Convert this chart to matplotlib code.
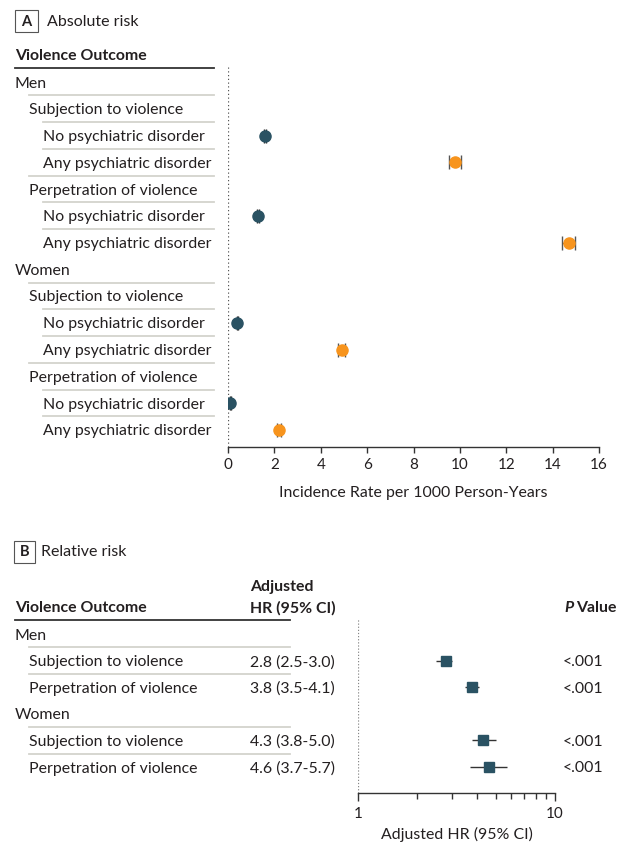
import matplotlib
matplotlib.use('Agg')
import matplotlib.pyplot as plt
import matplotlib.transforms as mtransforms
from matplotlib.patches import Rectangle
from matplotlib.lines import Line2D
from matplotlib.ticker import NullFormatter

plt.rcParams['font.family'] = ['Lato', 'DejaVu Sans']

# ---------------- data ----------------
labels_A = ["Men", "Subjection to violence", "No psychiatric disorder", "Any psychiatric disorder",
            "Perpetration of violence", "No psychiatric disorder", "Any psychiatric disorder",
            "Women", "Subjection to violence", "No psychiatric disorder", "Any psychiatric disorder",
            "Perpetration of violence", "No psychiatric disorder", "Any psychiatric disorder"]
levels_A = [0, 1, 2, 2, 1, 2, 2, 0, 1, 2, 2, 1, 2, 2]

ir_no = [1.6, 1.3, 0.4, 0.1]
ir_no_lo = [1.56, 1.26, 0.37, 0.08]
ir_no_hi = [1.64, 1.34, 0.43, 0.12]
ir_any = [9.8, 14.7, 4.9, 2.2]
ir_any_lo = [9.55, 14.4, 4.75, 2.12]
ir_any_hi = [10.05, 14.95, 5.05, 2.28]
xticks_A = [0, 2, 4, 6, 8, 10, 12, 14, 16]

labels_B = ["Men", "Subjection to violence", "Perpetration of violence",
            "Women", "Subjection to violence", "Perpetration of violence"]
levels_B = [0, 1, 1, 0, 1, 1]
hr = [2.8, 3.8, 4.3, 4.6]
hr_lo = [2.5, 3.5, 3.8, 3.7]
hr_hi = [3.0, 4.1, 5.0, 5.7]
p_values = ["<.001", "<.001", "<.001", "<.001"]

# ---------------- layout helpers ----------------
W, H = 622, 856
fig = plt.figure(figsize=(W / 100, H / 100), dpi=100)


def fx(p):
    return p / W


def fy(p):
    return 1 - p / H


TEXT = '#231f20'
DARK = '#2a5263'
ORANGE = '#f7941d'
GRID = '#d3d3cd'
FS = 11.4
TFS = 11
indent = {0: 15, 1: 29, 2: 43}

# ================= Panel A =================
ax1 = fig.add_axes([fx(228), fy(447), fx(599) - fx(228), (447 - 67) / H])
stepA = 26.75
ax1.set_xlim(0, 16)
ax1.set_ylim((447 - 82) / stepA, -(82 - 67) / stepA)

rows_no = [i for i, l in enumerate(labels_A) if l.startswith("No")]
rows_any = [i for i, l in enumerate(labels_A) if l.startswith("Any")]

ax1.errorbar(ir_no, rows_no,
             xerr=[[v - lo for v, lo in zip(ir_no, ir_no_lo)], [hi - v for v, hi in zip(ir_no, ir_no_hi)]],
             fmt='o', color=DARK, ms=8, ecolor='#222222', elinewidth=1, capsize=5, capthick=1, zorder=3)
ax1.errorbar(ir_any, rows_any,
             xerr=[[v - lo for v, lo in zip(ir_any, ir_any_lo)], [hi - v for v, hi in zip(ir_any, ir_any_hi)]],
             fmt='o', color=ORANGE, ms=8, ecolor='#555555', elinewidth=1, capsize=5, capthick=1, zorder=3)

ax1.axvline(0, color='#555555', ls=(0, (1, 2)), lw=0.9, zorder=1)
for s in ['top', 'right', 'left']:
    ax1.spines[s].set_visible(False)
ax1.spines['bottom'].set_color('#333333')
ax1.spines['bottom'].set_linewidth(1)
ax1.set_xticks(xticks_A)
ax1.set_xticklabels([str(t) for t in xticks_A])
ax1.set_yticks([])
ax1.tick_params(axis='x', length=4, width=1, color='#333333', labelsize=TFS, labelcolor=TEXT, pad=4)
ax1.set_xlabel("Incidence Rate per 1000 Person-Years", fontsize=FS, color=TEXT, labelpad=10)

transA = mtransforms.blended_transform_factory(fig.transFigure, ax1.transData)
transA_txt = mtransforms.offset_copy(transA, fig=fig, y=-1.5, units='dots')
for i, (lab, lev) in enumerate(zip(labels_A, levels_A)):
    ax1.text(fx(indent[lev]), i, lab, transform=transA_txt, va='center', ha='left',
             fontsize=FS, color=TEXT, clip_on=False)
    if lev > 0:
        ax1.add_line(Line2D([fx(indent[lev]), fx(214)], [i - 0.5, i - 0.5], transform=transA,
                            color=GRID, lw=1.3, clip_on=False))

fig.text(fx(15), fy(56), "Violence Outcome", weight='bold', fontsize=FS, color=TEXT, va='center')
fig.add_artist(Line2D([fx(15), fx(214)], [fy(68), fy(68)], color='#333333', lw=1.3))

fig.add_artist(Rectangle((fx(15), fy(32)), fx(38) - fx(15), (32 - 10) / H, transform=fig.transFigure,
                         fill=False, ec='#555555', lw=0.8))
fig.text(fx(26.5), fy(21.5), "A", weight='bold', ha='center', va='center', fontsize=10.5, color=TEXT)
fig.text(fx(47), fy(21.5), "Absolute risk", va='center', fontsize=11.5, color=TEXT)

# ================= Panel B =================
ax2 = fig.add_axes([fx(358), fy(793), fx(555) - fx(358), (793 - 618) / H])
stepB = 26.6
ax2.set_xscale('log')
ax2.set_xlim(1, 10)
ax2.set_ylim((793 - 634) / stepB, -(634 - 618) / stepB)

rows_B = [i for i, lev in enumerate(levels_B) if lev == 1]
ax2.errorbar(hr, rows_B,
             xerr=[[v - lo for v, lo in zip(hr, hr_lo)], [hi - v for v, hi in zip(hr, hr_hi)]],
             fmt='s', color=DARK, ms=7, ecolor='#333333', elinewidth=1, capsize=0, zorder=3)
ax2.axvline(1, color='#888888', ls=(0, (1, 1.5)), lw=0.9, zorder=1)
for s in ['top', 'right', 'left']:
    ax2.spines[s].set_visible(False)
ax2.spines['bottom'].set_color('#333333')
ax2.spines['bottom'].set_linewidth(1)
ax2.set_xticks([1, 10])
ax2.set_xticklabels(['1', '10'])
ax2.set_xticks([2, 3, 4, 5, 6, 7, 8, 9], minor=True)
ax2.xaxis.set_minor_formatter(NullFormatter())
ax2.set_yticks([])
ax2.tick_params(axis='x', which='major', length=6, width=1, color='#333333', labelsize=TFS,
                labelcolor=TEXT, pad=4)
ax2.tick_params(axis='x', which='minor', length=4, width=1, color='#333333')
ax2.set_xlabel("Adjusted HR (95% CI)", fontsize=FS, color=TEXT, labelpad=4)

transB = mtransforms.blended_transform_factory(fig.transFigure, ax2.transData)
transB_txt = mtransforms.offset_copy(transB, fig=fig, y=-1.5, units='dots')
k = 0
for i, (lab, lev) in enumerate(zip(labels_B, levels_B)):
    ax2.text(fx(indent[lev]), i, lab, transform=transB_txt, va='center', ha='left',
             fontsize=FS, color=TEXT, clip_on=False)
    if lev > 0:
        ax2.add_line(Line2D([fx(indent[lev]), fx(290)], [i - 0.5, i - 0.5], transform=transB,
                            color=GRID, lw=1.3, clip_on=False))
        ax2.text(fx(250), i, f"{hr[k]:.1f} ({hr_lo[k]:.1f}-{hr_hi[k]:.1f})", transform=transB_txt,
                 va='center', ha='left', fontsize=FS, color=TEXT, clip_on=False)
        ax2.text(fx(563), i, p_values[k], transform=transB_txt, va='center', ha='left',
                 fontsize=FS, color=TEXT, clip_on=False)
        k += 1

fig.text(fx(15), fy(608), "Violence Outcome", weight='bold', fontsize=FS, color=TEXT, va='center')
fig.text(fx(250), fy(587), "Adjusted", weight='bold', fontsize=FS, color=TEXT, va='center')
fig.text(fx(250), fy(608), "HR (95% CI)", weight='bold', fontsize=FS, color=TEXT, va='center')
fig.text(fx(564), fy(608), "P", weight='bold', style='italic', fontsize=FS, color=TEXT, va='center')
fig.text(fx(576), fy(608), "Value", weight='bold', fontsize=FS, color=TEXT, va='center')
fig.add_artist(Line2D([fx(15), fx(290)], [fy(620), fy(620)], color='#333333', lw=1.3))

fig.add_artist(Rectangle((fx(14), fy(563)), fx(35) - fx(14), (563 - 541) / H, transform=fig.transFigure,
                         fill=False, ec='#555555', lw=0.8))
fig.text(fx(24.5), fy(552.5), "B", weight='bold', ha='center', va='center', fontsize=10.5, color=TEXT)
fig.text(fx(41), fy(552.5), "Relative risk", va='center', fontsize=11.5, color=TEXT)

fig.savefig("out.png", dpi=100)
